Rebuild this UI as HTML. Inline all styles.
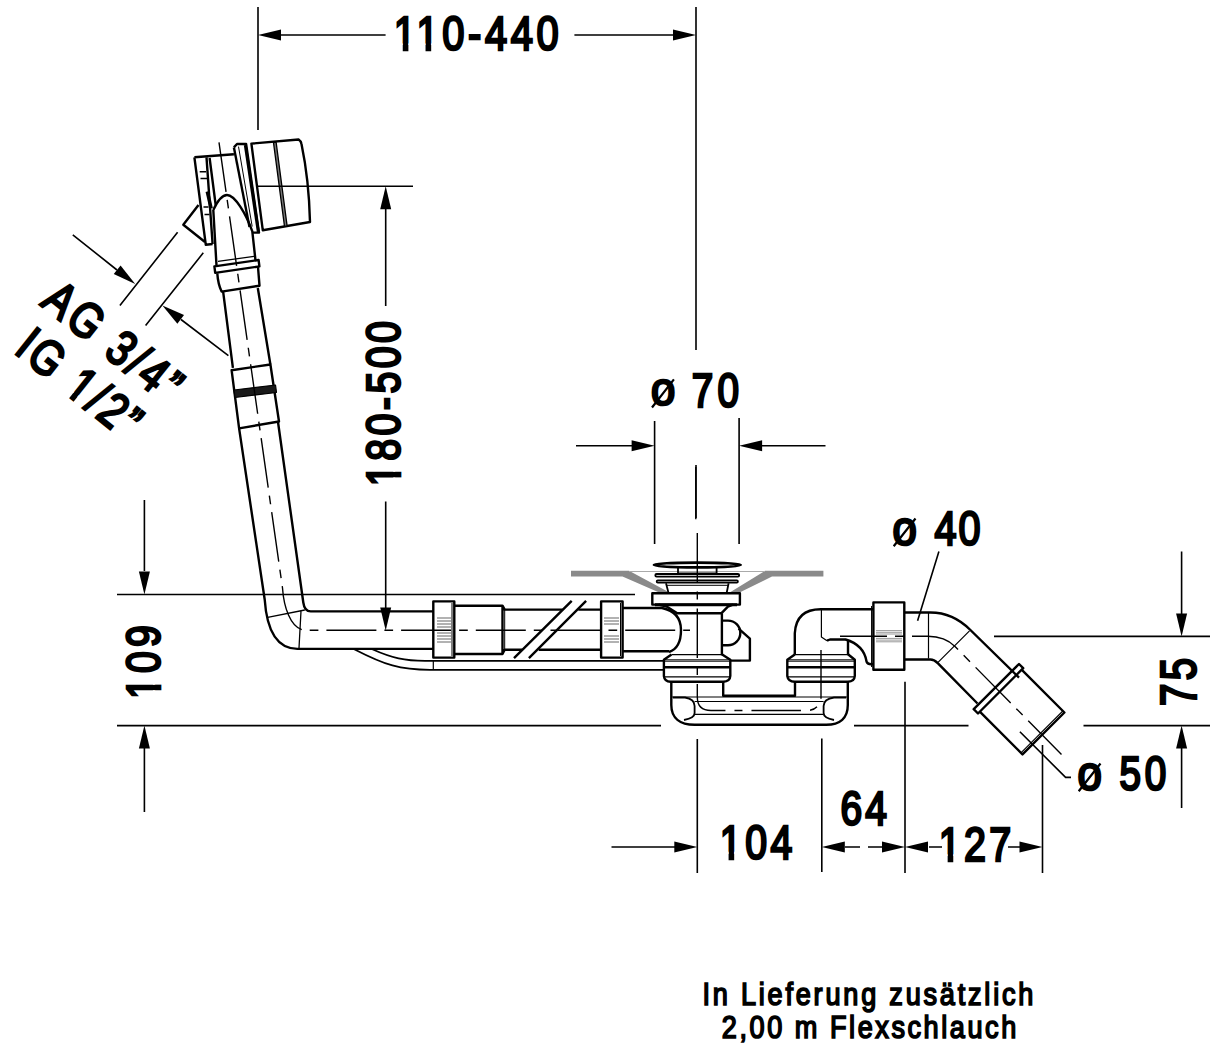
<!DOCTYPE html>
<html><head><meta charset="utf-8"><style>
html,body{margin:0;padding:0;background:#fff;width:1213px;height:1051px;overflow:hidden}
svg{position:absolute;left:0;top:0}
text{font-family:"Liberation Sans",sans-serif;fill:#000}
</style></head><body>
<svg width="1213" height="1051" viewBox="0 0 1213 1051">
<defs>
<path id="ah" d="M0,0 L-23,-5.5 L-23,5.5 Z"/>
</defs>


<!-- OBJECT -->
<g id="obj" fill="none" stroke="#000" stroke-width="2.4" stroke-linejoin="round">
<!-- escutcheon cap -->
<path d="M251.4,143.6 L298.6,139.5 Q301,141 301.5,144 Q309,180 310,222 L262.8,230.3 Z"/>
<path d="M273.5,142.6 L276.1,142 L287.1,225.8 L284.5,226.3 Z" fill="#777" stroke-width="1.3"/>
<!-- flange -->
<path d="M233.9,147.4 L237,144 L246.1,144 L259,232.6 L252.2,232.6"/>
<path d="M233.9,147.4 L249.5,227"/>
<path d="M238.5,146.6 L252.2,226.5" stroke-width="1"/>
<path d="M245.3,145.1 L258.3,231.9" stroke-width="3"/>
<!-- left plate -->
<path d="M194.4,157.3 L233.9,154.2 M194.4,157.3 L205.8,244.8 L212.6,244"/>
<path d="M206.5,157.3 L212.6,244 M209.6,158 L215.7,205.2"/>
<path d="M207.3,191.5 L211.1,208.3" stroke-width="3.5"/>
<path d="M199.7,171.7 H206 M200.5,178.5 H207 M203.5,207 H208.5 M204.5,214.5 H209.5" stroke-width="1.4"/>
<path d="M198.5,205 L183.3,224.7 L205,242"/>
<!-- elbow -->
<path d="M213.3,210 C217,202 222,195 227,195 C235,195 246,214 252.3,231.3 L255.5,260.5 M213.3,210 L216.5,265.5"/>
<!-- collar -->
<path d="M218,261.3 L254,256.3" stroke-width="1.3"/>
<path d="M214.4,266.4 L258.6,260 L259.4,266.4 L215.2,272.9 Z"/>
<path d="M217.3,273.4 Q218,284 221.6,291.6 L259.5,285.7 L258,267"/>
<!-- upper pipe -->
<path d="M223.1,291.4 L232.9,367.9 M257.8,288 L270.4,364.5"/>
<!-- coupling -->
<path d="M231.6,370.2 L270.4,364.5 L279,421.5 L239.1,428.4 Z"/>
<path d="M234,390 L275.5,385 L276.5,392.5 L235,397.5 Z" fill="#1a1a1a" stroke-width="1.2"/>
<!-- lower pipe + bend -->
<path d="M239.1,428.4 L264.7,599.5 Q268,648.5 297.4,648.9 H433.3"/>
<path d="M278,422 L303.3,602.5 Q304.5,611.4 310.7,611.4 H433.3"/>
<path d="M267.7,617.3 L304.8,610 M301,611 L299,648" stroke-width="1.3"/>
<!-- nut 1 -->
<rect x="433.3" y="601.4" width="21" height="56.2" stroke-width="2.4"/>
<path d="M437,618 H451 M437,621 H451 M437,624 H451 M437,627 H451 M437,633 H451 M437,636 H451 M437,639 H451 M437,642 H451" stroke="#999" stroke-width="1.4"/>
<path d="M452,603 V656" stroke-width="1"/>
<!-- pipe section 1 -->
<path d="M454.3,605.7 H502.5 L504.7,609.6 H562.7 M578.3,609.6 H601.1 M454.3,654 H502.5 L504.7,649.7 H522.3 M538.7,649.7 H601.1 M502.5,605.7 V654"/>
<path d="M504.7,609.6 V649.7" stroke-width="1"/>
<!-- break lines -->
<path d="M514,658.1 L571.7,600.8 M528.9,658.1 L586.1,600.8" stroke-width="2.4"/>
<!-- nut 2 -->
<rect x="601.1" y="601.4" width="21.5" height="56.2" stroke-width="2.4"/>
<path d="M604,618 H619 M604,621 H619 M604,624 H619 M604,636 H619 M604,639 H619 M604,642 H619" stroke="#999" stroke-width="1.4"/>
<path d="M620.5,603 V656" stroke-width="1"/>
<!-- pipe to drain -->
<path d="M622.6,608 H662 Q681,612 681,630 Q681,648 669,652 M622.6,651.3 H669"/>
<!-- hose -->
<path d="M354.2,649.2 C385,665 400,669.9 430,669.9 H663.9 M372.3,649.2 C392,658 405,660.8 425,660.8 H663.9" stroke-width="1.8"/>
<path d="M433.3,660.8 V669.9" stroke-width="1.2"/>
</g>

<!-- DRAIN -->
<g id="drain" fill="none" stroke="#000" stroke-width="2.4" stroke-linejoin="round">
<path d="M571,570.8 H629 L668.5,592 L662,593.8 L622.5,576.5 H571 Z" fill="#8a8a8a" stroke="none"/>
<path d="M823.4,570.8 H765 L730.5,592 L737,593.8 L772,576.5 H823.4 Z" fill="#8a8a8a" stroke="none"/>
<path d="M629,571.5 H765" stroke="#aaa" stroke-width="1.2"/>
<ellipse cx="697.3" cy="565" rx="43.5" ry="2.4" stroke-width="2.6"/>
<path d="M678,567.3 V573.3 H716.6 V567.3" stroke-width="1.8"/>
<rect x="655.3" y="574" width="83.9" height="2.6" rx="1.3" stroke-width="1.8"/>
<rect x="656.7" y="580.4" width="81.2" height="2.2" rx="1.1" stroke-width="1.8"/>
<path d="M666,583.3 L668.6,593.3 M728.6,583.3 L726.6,593.3" stroke-width="1.8"/>
<path d="M667,585.3 H728" stroke-width="1"/>
<rect x="652.3" y="593.3" width="87.6" height="11.3" stroke-width="2.4"/>
<path d="M655,604.8 H737" stroke-width="3"/>
<path d="M658.6,604.6 L666.6,606.6 L677.3,613.3 H721.3 L727.9,606.6 L733,604.6"/>
<path d="M721.9,613.3 V655.2"/>
<path d="M721.9,620.6 H728 A12.3,12.3 0 0 1 728,645.2 H721.9"/>
<path d="M738.6,628.6 L749.9,638.6 V660.6 H730.3"/>
<!-- lower nut left -->
<path d="M671.5,654.6 L663.9,659.8 V676.2 Q664.5,681.7 670.6,681.7 H723.2 Q730,681.5 730.3,676 V659.8 L721.8,654.3"/>
<path d="M671.5,654.6 H721.8 M664.5,676.9 H729.8" stroke-width="1.3"/>
<path d="M664.5,659.8 H729.8 M664.5,661.2 H729.8" stroke-width="1"/>
<path d="M664.5,667.3 H729.8" stroke-width="2.4"/>
<!-- trap -->
<path d="M671.3,681.9 V705 C671.3,718 680,724.8 694.6,724.8 H826.2 C840,724.8 847.8,718 847.8,705 V681.6"/>
<path d="M723.2,681.9 V695.7 H795 V681.6"/>
<path d="M671.3,697 H847.8" stroke-width="1.2"/>
<path d="M694.6,701.5 H823.6 M694.6,714.4 H823.6" stroke-width="1.2"/>
<path d="M673,697.5 H685 Q694.6,699 694.6,706 V713 Q694.6,718 684,720" stroke-width="1.8"/>
<path d="M846,697.5 H834 Q823.6,699 823.6,706 V713 Q823.6,718 834,720" stroke-width="1.8"/>
<!-- right nut -->
<path d="M794.8,654.6 L787.3,659.8 V676.2 Q788,681.7 794.8,681.7 H847.8 Q854.5,681.5 854.8,676 V659.8 L848,654.3"/>
<path d="M794.8,654.6 H848 M788,676.9 H854.2" stroke-width="1.3"/>
<path d="M788,659.8 H854.2 M788,661.2 H854.2" stroke-width="1"/>
<path d="M788,667.3 H854.2" stroke-width="2.4"/>
<!-- right elbow -->
<path d="M794.8,654.7 V633.3 Q796,609.2 820.8,609.2 H873.4"/>
<path d="M848,654.7 V640.7 M827,640.7 L830,639.5 H845.5 Q864,645 866.6,661.7 Q868,665 873.4,664"/>
<path d="M821.4,610 V637 L827,640.7" stroke-width="1.2"/>
<!-- nut 3 -->
<rect x="873.4" y="602.4" width="30.9" height="67.4" stroke-width="2.4"/>
<path d="M871.6,606 V667" stroke-width="1.1"/>
<path d="M876,630.6 H902 M876,632.3 H902 M876,634 H902 M876,638.4 H902 M876,640.1 H902 M876,641.8 H902" stroke="#999" stroke-width="1"/>
<!-- pipe 45 -->
<path d="M904.3,612.5 H930.4 Q953,612.5 970.4,630 L1019,677.6 M904.3,659.5 H930.4 Q934,659.5 938,663.3 L977.5,703.5"/>
<path d="M928.5,612.8 V658.5 M969.5,630.9 L938,662.3" stroke-width="1.2"/>
<path d="M973.7,709.2 L1019,664 L1023.2,668.2 L978,713.5 Z" stroke-width="2.4"/>
<path d="M1021.6,669.7 L1064.4,712.5 L1022.5,754.4 L979.8,711.6" stroke-width="2.4"/>
<path d="M1062.8,711 L1020.9,752.9" stroke-width="1.1"/>
</g>

<!-- CENTERLINES -->
<g id="cl" fill="none" stroke="#000" stroke-width="1.4">
<path d="M219,142.4 L282.5,588 C284,610 292,629.5 305,630.3 H690" stroke-dasharray="50 8 8.7 8"/>
<path d="M697.3,532.9 V697 Q697.3,710.5 711,710.5 H808 Q818,710 821,699.2 V650" stroke-dasharray="49.5 9 8 9"/>
<path d="M695.8,467 V519.3"/>
<path d="M840,636.2 H928 Q945,636.2 955,646.5 L1061.5,754.5" stroke-dasharray="50 8 9 8" stroke-dashoffset="3"/>
</g>
<!-- DIMENSION LINES -->
<g id="dims" fill="none" stroke="#000" stroke-width="1.6">
<path d="M258,7 V130 M696,7 V350 M696,465 V518 M280,35 H385.6 M574.4,35 H674"/>
<path d="M258,186.3 H413 M385.7,209 V306 M385.7,501.6 V608"/>
<path d="M117,594.5 H635 M117,725.6 H661 M854,725.6 H968.5 M1083.5,725.6 H1210 M144.4,500 V571 M144.4,748 V812"/>
<path d="M994,636.4 H1210 M1181.6,551.4 V614 M1181.6,748 V808"/>
<path d="M654.6,421 V544 M739.1,418 V544 M576,445.8 H632 M825.5,445.8 H761"/>
<path d="M611.5,847 H675 M697.3,739 V873 M821.8,738.5 V872 M905,681.7 V873 M1042.5,745 V873"/>
<path d="M845,847 H860 M868,847 H882 M929,847 H942 M1008,847 H1020"/>
<path d="M1019.9,731.8 L1065.6,777.4 H1071 M938.9,551.4 L917.6,620.8"/>
<path d="M652,407.5 L673.9,379.4 M893.7,546.2 L915.5,518.5 M1078.7,791.2 L1100.5,763.5" stroke-width="2.2"/>
<path d="M119.9,305.6 L177.6,232.2 M145.6,325.6 L203.3,252.8 M72.8,234.8 L117,270 M228.4,355.6 L181,319.5"/>
</g>
<g id="arrows" fill="#000" stroke="none">
<use href="#ah" transform="translate(258,35) rotate(180)"/>
<use href="#ah" transform="translate(696,35)"/>
<use href="#ah" transform="translate(385.7,186.3) rotate(-90)"/>
<use href="#ah" transform="translate(385.7,630.5) rotate(90)"/>
<use href="#ah" transform="translate(144.4,594.5) rotate(90)"/>
<use href="#ah" transform="translate(144.4,725.6) rotate(-90)"/>
<use href="#ah" transform="translate(1181.6,636.4) rotate(90)"/>
<use href="#ah" transform="translate(1181.6,725.6) rotate(-90)"/>
<use href="#ah" transform="translate(654.6,445.8)"/>
<use href="#ah" transform="translate(739.1,445.8) rotate(180)"/>
<use href="#ah" transform="translate(697.3,847)"/>
<use href="#ah" transform="translate(821.8,847) rotate(180)"/>
<use href="#ah" transform="translate(905,847)"/>
<use href="#ah" transform="translate(905,847) rotate(180)"/>
<use href="#ah" transform="translate(1042.5,847)"/>
<use href="#ah" transform="translate(135.2,284) rotate(38.3)"/>
<use href="#ah" transform="translate(162.4,305.4) rotate(217.3)"/>
</g>
<!-- TEXT -->
<g id="txt">
<g transform="translate(393.80,50.40) scale(0.8200,1)"><text font-size="48.67" stroke="#000" stroke-width="2.6" textLength="200.98" lengthAdjust="spacing">110-440</text><rect class="cv" x="0.43" y="-6.96" width="10.48" height="10.86" fill="#fff"/><rect class="cv" x="17.80" y="-6.96" width="10.00" height="10.86" fill="#fff"/><rect class="cv" x="28.22" y="-6.96" width="10.48" height="10.86" fill="#fff"/><rect class="cv" x="45.59" y="-6.96" width="10.00" height="10.86" fill="#fff"/></g>
<g transform="translate(400.20,486.20) rotate(-90) scale(0.8200,1)"><text font-size="48.07" stroke="#000" stroke-width="2.6" textLength="201.46" lengthAdjust="spacing">180-500</text><rect class="cv" x="0.40" y="-6.91" width="10.36" height="10.81" fill="#fff"/><rect class="cv" x="17.60" y="-6.91" width="9.88" height="10.81" fill="#fff"/></g>
<g transform="translate(159.80,699.00) rotate(-90) scale(0.8200,1)"><text font-size="47.78" stroke="#000" stroke-width="2.6" textLength="90.00" lengthAdjust="spacing">109</text><rect class="cv" x="0.39" y="-6.89" width="10.30" height="10.79" fill="#fff"/><rect class="cv" x="17.50" y="-6.89" width="9.83" height="10.79" fill="#fff"/></g>
<g transform="translate(1196.20,706.00) rotate(-90) scale(0.8200,1)"><text font-size="49.04" stroke="#000" stroke-width="2.6" textLength="58.54" lengthAdjust="spacing">75</text></g>
<g transform="translate(651.00,405.20) scale(0.9358,1)"><text font-size="46.69" stroke="#000" stroke-width="2.6">o</text></g>
<g transform="translate(691.80,406.50) scale(0.8200,1)"><text font-size="47.20" stroke="#000" stroke-width="2.6" textLength="57.56" lengthAdjust="spacing">70</text></g>
<g transform="translate(892.40,545.40) scale(0.9129,1)"><text font-size="47.95" stroke="#000" stroke-width="2.6">o</text></g>
<g transform="translate(934.50,544.60) scale(0.8200,1)"><text font-size="48.33" stroke="#000" stroke-width="2.6" textLength="56.22" lengthAdjust="spacing">40</text></g>
<g transform="translate(1077.40,790.40) scale(0.9129,1)"><text font-size="47.95" stroke="#000" stroke-width="2.6">o</text></g>
<g transform="translate(1119.50,790.20) scale(0.8200,1)"><text font-size="47.20" stroke="#000" stroke-width="2.6" textLength="56.95" lengthAdjust="spacing">50</text></g>
<g transform="translate(719.80,858.60) scale(0.8200,1)"><text font-size="47.87" stroke="#000" stroke-width="2.6" textLength="88.54" lengthAdjust="spacing">104</text><rect class="cv" x="0.39" y="-6.90" width="10.32" height="10.80" fill="#fff"/><rect class="cv" x="17.53" y="-6.90" width="9.84" height="10.80" fill="#fff"/></g>
<g transform="translate(840.60,824.80) scale(0.8200,1)"><text font-size="47.51" stroke="#000" stroke-width="2.6" textLength="56.59" lengthAdjust="spacing">64</text></g>
<g transform="translate(938.80,861.20) scale(0.8200,1)"><text font-size="48.18" stroke="#000" stroke-width="2.6" textLength="88.29" lengthAdjust="spacing">127</text><rect class="cv" x="0.41" y="-6.92" width="10.38" height="10.82" fill="#fff"/><rect class="cv" x="17.63" y="-6.92" width="9.90" height="10.82" fill="#fff"/></g>
<g transform="translate(702.40,1005.40) scale(0.8600,1)"><text font-size="31.50" stroke="#000" stroke-width="1.7" textLength="384.88" lengthAdjust="spacing">In Lieferung zusätzlich</text></g>
<g transform="translate(721.80,1038.30) scale(0.8600,1)"><text font-size="31.50" stroke="#000" stroke-width="1.7" textLength="342.33" lengthAdjust="spacing">2,00 m Flexschlauch</text></g>
<g transform="translate(39.50,304.50) rotate(38.5) scale(0.82,1)"><text font-size="49.50" stroke="#000" stroke-width="2.6" textLength="196.34" lengthAdjust="spacing">AG 3/4”</text></g>
<g transform="translate(13.00,352.00) rotate(38.5) scale(0.82,1)"><text font-size="49.50" stroke="#000" stroke-width="2.6" textLength="174.39" lengthAdjust="spacing">IG 1/2”</text><rect class="cv" x="78.02" y="-7.01" width="10.65" height="10.91" fill="#fff"/><rect class="cv" x="95.63" y="-7.01" width="10.15" height="10.91" fill="#fff"/></g>
</g>
</svg>
</body></html>
